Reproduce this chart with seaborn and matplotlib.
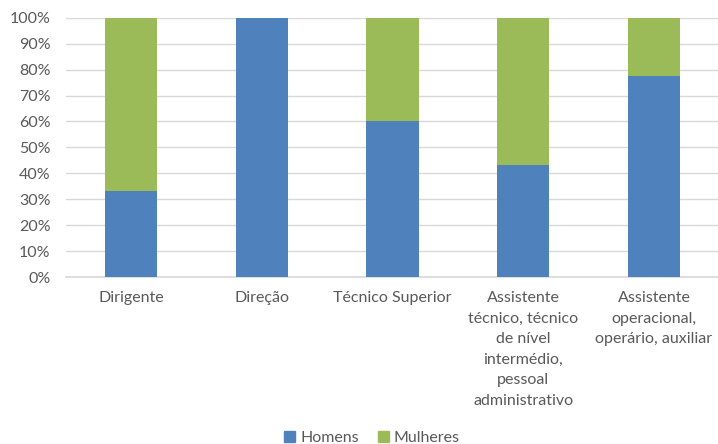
import matplotlib
matplotlib.use("Agg")
import matplotlib.pyplot as plt
import seaborn as sns
import pandas as pd
from matplotlib.ticker import PercentFormatter
from matplotlib.patches import Patch

categorias = ["Dirigente", "Direção", "Técnico Superior",
              "Assistente\ntécnico, técnico\nde nível\nintermédio,\npessoal\nadministrativo",
              "Assistente\noperacional,\noperário, auxiliar"]
homens = [33.3, 100.0, 60.0, 43.3, 77.4]
mulheres = [66.7, 0.0, 40.0, 56.7, 22.6]
yticks = [0, 10, 20, 30, 40, 50, 60, 70, 80, 90, 100]

sns.set_theme(style="white")
plt.rcParams['font.family'] = ['Lato', 'DejaVu Sans']

df = pd.DataFrame({"cat": categorias, "Homens": homens, "Mulheres": mulheres})
df["total"] = df["Homens"] + df["Mulheres"]

fig = plt.figure(figsize=(7.18, 4.44), dpi=100)
ax = fig.add_axes([0.0914, 0.376, 0.9105, 0.584])

blue = "#4F81BD"
green = "#9BBB59"
sns.barplot(data=df, x="cat", y="total", color=green, saturation=1, width=0.4, ax=ax, zorder=3)
sns.barplot(data=df, x="cat", y="Homens", color=blue, saturation=1, width=0.4, ax=ax, zorder=3)
for p in ax.patches:
    p.set_edgecolor("none")

ax.set_ylim(0, 100)
ax.set_xlim(-0.5, len(categorias) - 0.5)
ax.set_yticks(yticks)
ax.yaxis.set_major_formatter(PercentFormatter(decimals=0))
ax.grid(axis="y", color="#D9D9D9", linewidth=1, zorder=0)
ax.set_xlabel("")
ax.set_ylabel("")
for s in ["top", "right", "left"]:
    ax.spines[s].set_visible(False)
ax.spines["bottom"].set_color("#D9D9D9")
ax.tick_params(axis="both", length=0, colors="#595959", labelsize=11.5)
ax.tick_params(axis="y", pad=11)
ax.tick_params(axis="x", pad=10)
for lab in ax.get_xticklabels():
    lab.set_linespacing(1.6)

handles = [Patch(color=blue, label="Homens"), Patch(color=green, label="Mulheres")]
leg = fig.legend(handles=handles, loc="lower center", bbox_to_anchor=(0.518, -0.035), ncol=2,
                 frameon=False, fontsize=11.5, handlelength=0.7, handleheight=0.7,
                 handletextpad=0.3, columnspacing=1.2)
for t in leg.get_texts():
    t.set_color("#595959")

fig.savefig("out.png", dpi=100)
